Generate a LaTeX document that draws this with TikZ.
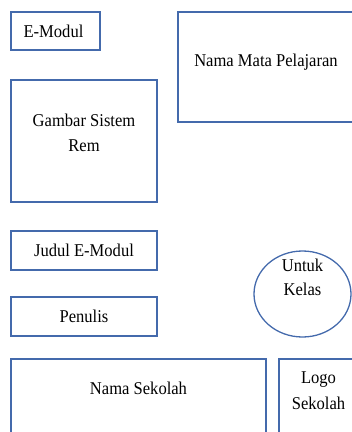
\documentclass[tikz,border=0pt]{standalone}
\usepackage{fontspec}
\setmainfont{Liberation Serif}[FakeStretch=0.92]
\usetikzlibrary{shapes.geometric}

\definecolor{kotak}{RGB}{68,106,172}

\tikzset{
  box/.style={draw=kotak, line width=1.3pt, rectangle, inner sep=0pt},
  bulat/.style={draw=kotak, line width=1.3pt, ellipse, inner sep=0pt},
  txt/.style={align=center, inner sep=0pt, font=\fontsize{18}{25}\selectfont}
}

\begin{document}
\begin{tikzpicture}[x=1pt,y=-1pt]
\useasboundingbox (0,0) rectangle (352,432);
\clip (0,0) rectangle (352,432);

% kotak-kotak
\node[box, minimum width=89, minimum height=38] (emodul) at (55.5,31) {};
\node[box, minimum width=176, minimum height=110] (mapel) at (266,67) {};
\node[box, minimum width=146, minimum height=122] (gambar) at (84,141) {};
\node[box, minimum width=146, minimum height=39] (judul) at (84,250.5) {};
\node[box, minimum width=146, minimum height=39] (penulis) at (84,316.5) {};
\node[bulat, minimum width=97, minimum height=86] (kelas) at (302.5,294) {};
\node[box, minimum width=255, minimum height=100] (sekolah) at (138.5,409) {};
\node[box, minimum width=80, minimum height=100] (logo) at (319,409) {};

% tulisan
\node[txt] (emodultxt) at ([xshift=-2pt]emodul.center) {E-Modul};
\node[txt] (mapeltxt) at ([yshift=5pt]mapel.center) {Nama Mata Pelajaran};
\node[txt] (gambartxt) at ([yshift=8.5pt]gambar.center) {Gambar Sistem\\Rem};
\node[txt] (judultxt) at (judul.center) {Judul E-Modul};
\node[txt] (penulistxt) at (penulis.center) {Penulis};
\node[txt, font=\fontsize{18}{24}\selectfont] (kelastxt) at ([yshift=17pt]kelas.center) {Untuk\\Kelas};
\node[txt] (sekolahtxt) at (138.5,388) {Nama Sekolah};
\node[txt, font=\fontsize{18}{26}\selectfont] (logotxt) at (318.5,391) {Logo\\Sekolah};
\end{tikzpicture}
\end{document}
